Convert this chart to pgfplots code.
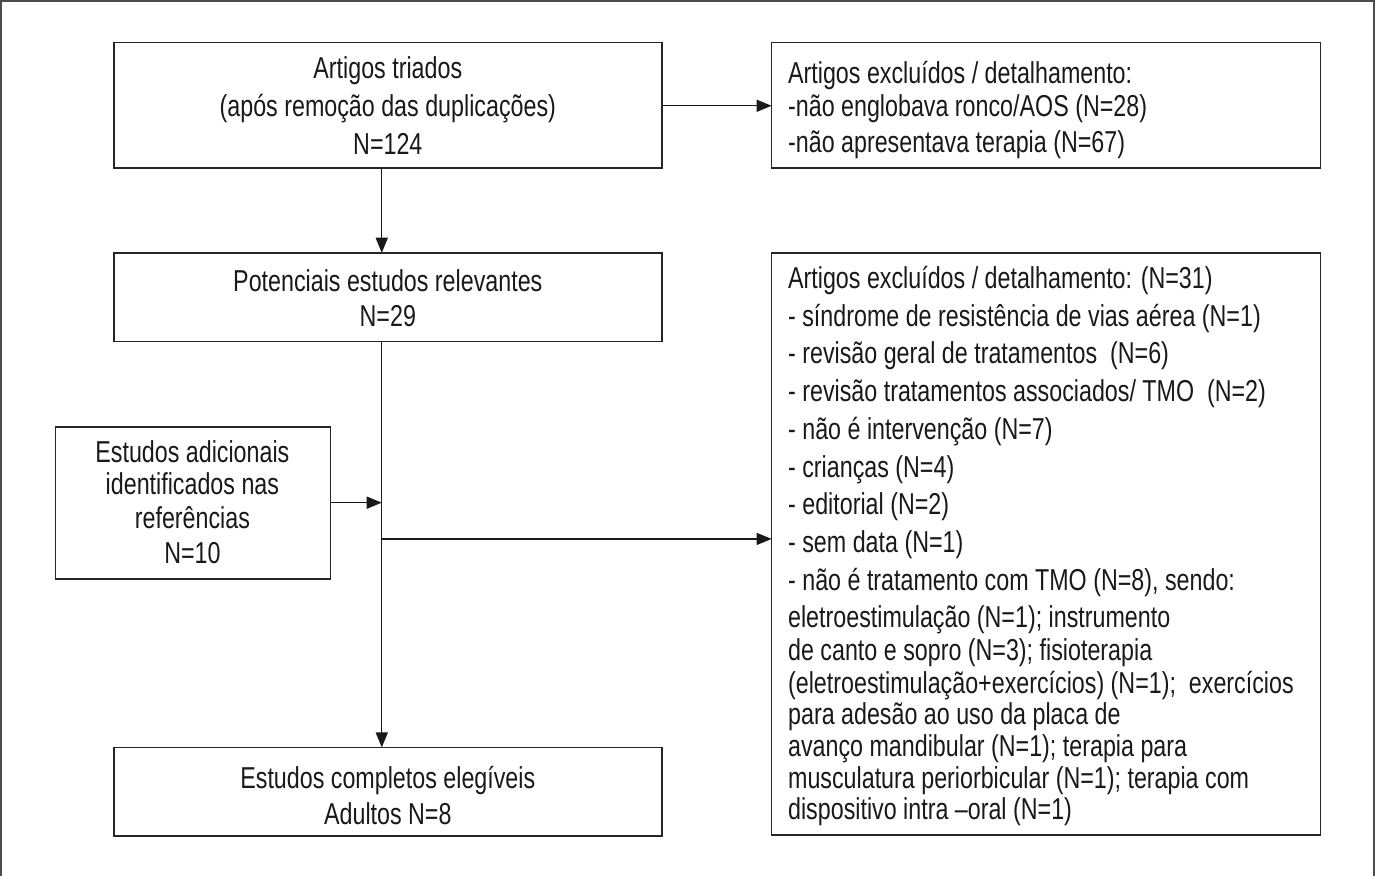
\documentclass[border=0pt]{standalone}
\usepackage{fontspec}
\setmainfont{Liberation Sans}[FakeStretch=0.77]
\usepackage{pgfplots}
\pgfplotsset{compat=1.18}
\usetikzlibrary{arrows.meta}
\newcommand{\fnt}{\fontsize{15}{17}\selectfont}
\newcommand{\LT}[3]{\node[anchor=base west,inner sep=0pt,font=\fnt,text=black!90] at (axis cs:#1,#2) {#3};}
\newcommand{\CT}[3]{\node[anchor=base,inner sep=0pt,font=\fnt,text=black!90] at (axis cs:#1,#2) {#3};}
\begin{document}
\begin{tikzpicture}
\begin{axis}[
  width=687.5pt, height=438.5pt, scale only axis,
  xmin=0, xmax=1375, ymin=0, ymax=877, y dir=reverse,
  axis lines=none, clip=true,
]
% outer frame
\draw[line width=1pt, black!70] (axis cs:9,9) rectangle (axis cs:1372,920);
% boxes
\draw[line width=0.8pt, black!85] (axis cs:121,50) rectangle (axis cs:665,175);
\draw[line width=0.8pt, black!85] (axis cs:774,50) rectangle (axis cs:1319,175);
\draw[line width=0.8pt, black!85] (axis cs:121,259) rectangle (axis cs:665,347);
\draw[line width=0.8pt, black!85] (axis cs:774,259) rectangle (axis cs:1319,837);
\draw[line width=0.8pt, black!85] (axis cs:63,432) rectangle (axis cs:336,583);
\draw[line width=0.8pt, black!85] (axis cs:121,750) rectangle (axis cs:665,838);
% connectors
\tikzset{conn/.style={line width=0.7pt, black!90, -{Triangle[length=7.5pt,width=6pt]}}}
\draw[conn] (axis cs:665,113) -- (axis cs:774,113);
\draw[conn] (axis cs:387,175) -- (axis cs:387,259);
\draw[conn] (axis cs:387,347) -- (axis cs:387,750);
\draw[conn] (axis cs:336,507) -- (axis cs:387,507);
\draw[conn] (axis cs:387,543) -- (axis cs:774,543);
% box 1
\CT{393}{86}{Artigos triados}
\CT{393}{124}{(após remoção das duplicações)}
\CT{393}{161}{N=124}
% right 1
\LT{790}{91}{Artigos excluídos / detalhamento:}
\LT{790}{124}{-não englobava ronco/AOS (N=28)}
\LT{790}{159}{-não apresentava terapia (N=67)}
% potenciais
\CT{393}{297}{Potenciais estudos relevantes}
\CT{393}{332}{N=29}
% right 2
\LT{790}{294}{Artigos excluídos / detalhamento: (N=31)}
\LT{790}{332}{- síndrome de resistência de vias aérea (N=1)}
\LT{790}{369}{- revisão geral de tratamentos~ (N=6)}
\LT{790}{407}{- revisão tratamentos associados/ TMO~ (N=2)}
\LT{790}{444}{- não é intervenção (N=7)}
\LT{790}{482}{- crianças (N=4)}
\LT{790}{519}{- editorial (N=2)}
\LT{790}{556}{- sem data (N=1)}
\LT{790}{594}{- não é tratamento com TMO (N=8), sendo:}
\LT{790}{631}{eletroestimulação (N=1); instrumento}
\LT{790}{664}{de canto e sopro (N=3); fisioterapia}
\LT{790}{696}{(eletroestimulação+exercícios) (N=1);~ exercícios}
\LT{790}{727}{para adesão ao uso da placa de}
\LT{790}{759}{avanço mandibular (N=1); terapia para}
\LT{790}{791}{musculatura periorbicular (N=1); terapia com}
\LT{790}{822}{dispositivo intra –oral (N=1)}
% adicionais
\CT{199}{467}{Estudos adicionais}
\CT{199}{499}{identificados nas}
\CT{199}{533}{referências}
\CT{199}{567}{N=10}
% completos
\CT{393}{791}{Estudos completos elegíveis}
\CT{393}{826}{Adultos N=8}
\end{axis}
\end{tikzpicture}
\end{document}
